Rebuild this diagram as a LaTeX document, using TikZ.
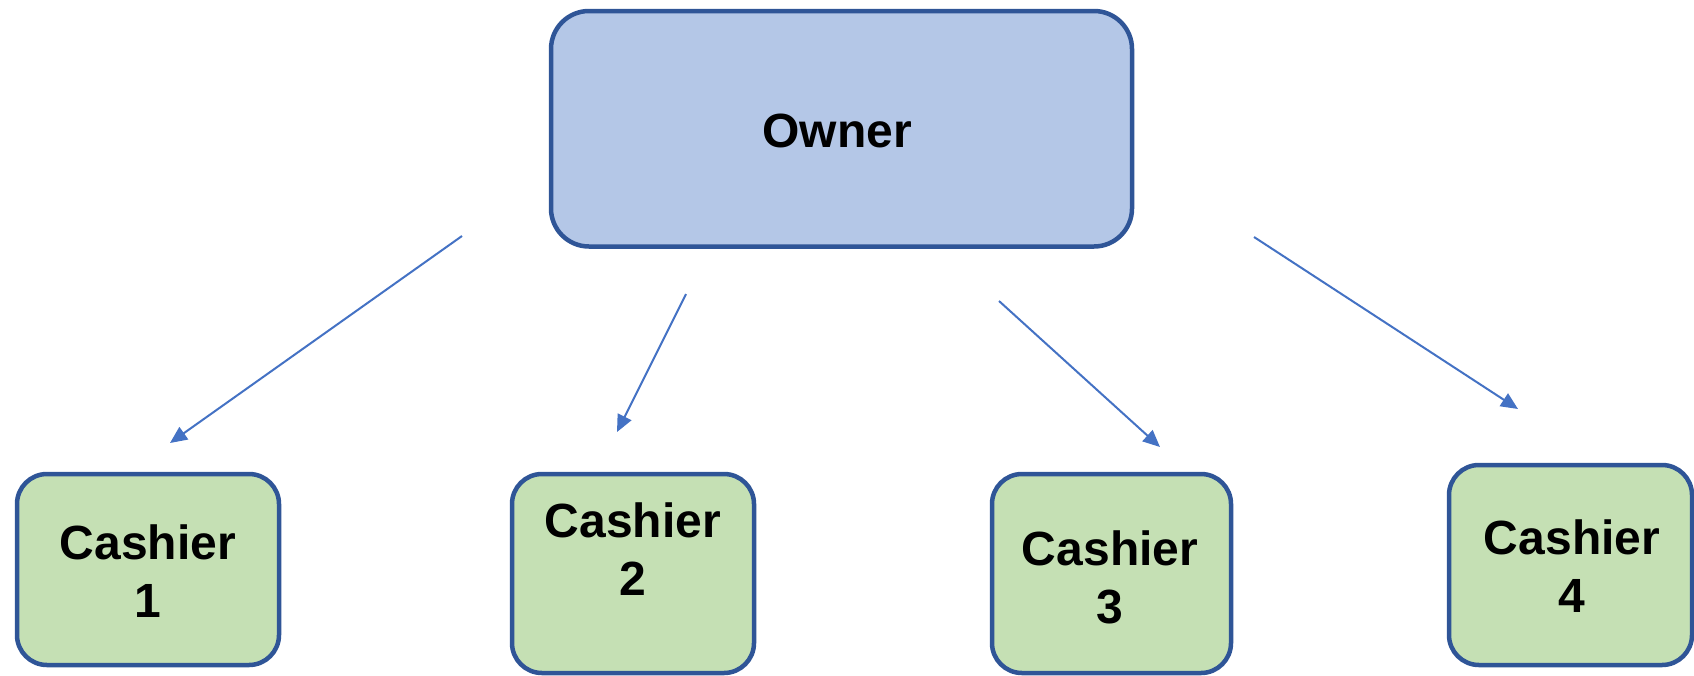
\documentclass[tikz,border=0pt]{standalone}
\usepackage{fontspec}
\setmainfont{Liberation Sans}
\usetikzlibrary{arrows.meta}
\definecolor{boxline}{HTML}{2F5597}
\definecolor{ownerfill}{HTML}{B4C7E7}
\definecolor{cashfill}{HTML}{C5E0B4}
\definecolor{linkblue}{HTML}{4472C4}
\begin{document}
\begin{tikzpicture}[x=1pt,y=-1pt,
  boxbase/.style={draw=boxline, line width=4.5pt, rectangle, inner sep=0pt},
  ownerbox/.style={boxbase, fill=ownerfill, rounded corners=38pt},
  cashbox/.style={boxbase, fill=cashfill, rounded corners=30pt},
  lbl/.style={font=\fontsize{48}{58}\selectfont\bfseries, align=center, inner sep=0pt},
  link/.style={draw=linkblue, line width=2pt, -{Triangle[length=17pt,width=15pt]}}]
\useasboundingbox (0,0) rectangle (1694,675);

% top box
\node[ownerbox, minimum width=581pt, minimum height=235.5pt] (owner) at (841.5,128.75) {};
\node[lbl] (ownert) at (837,131) {Owner};

% cashier boxes
\node[cashbox, minimum width=262pt, minimum height=191pt] (c1) at (148,569.5) {};
\node[lbl] (c1t) at (148,571) {Cashier\\1};

\node[cashbox, minimum width=242pt, minimum height=199pt] (c2) at (633,573.5) {};
\node[lbl] (c2t) at (633,549.5) {Cashier\\2};

\node[cashbox, minimum width=239pt, minimum height=199pt] (c3) at (1111.5,573.5) {};
\node[lbl] (c3t) at (1110,577.5) {Cashier\\3};

\node[cashbox, minimum width=243pt, minimum height=200pt] (c4) at (1570.5,565) {};
\node[lbl] (c4t) at (1572,566.5) {Cashier\\4};

% free-standing arrow ends
\coordinate (a1s) at (462,236);  \coordinate (a1e) at (170,443);
\coordinate (a2s) at (686,294);  \coordinate (a2e) at (617,432);
\coordinate (a3s) at (999,301);  \coordinate (a3e) at (1160,447);
\coordinate (a4s) at (1254,237); \coordinate (a4e) at (1518,409);

\draw[link] (a1s) -- (a1e);
\draw[link] (a2s) -- (a2e);
\draw[link] (a3s) -- (a3e);
\draw[link] (a4s) -- (a4e);
\end{tikzpicture}
\end{document}
